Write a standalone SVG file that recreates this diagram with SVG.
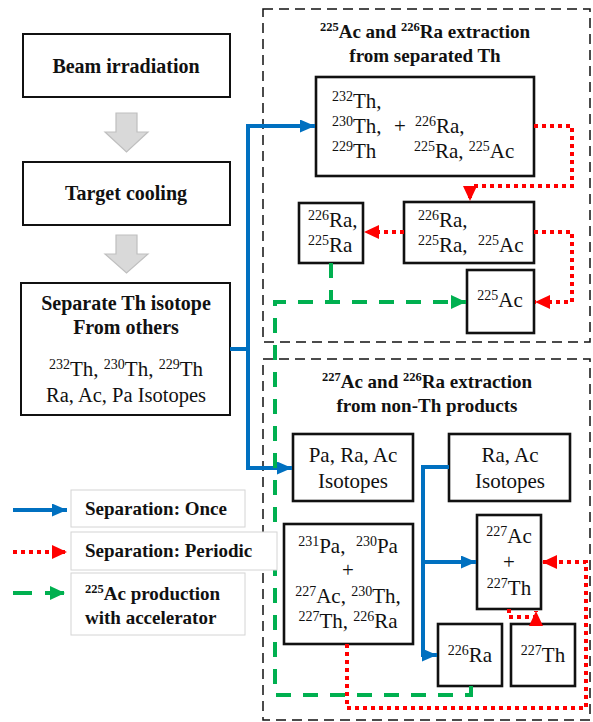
<svg xmlns="http://www.w3.org/2000/svg" width="593" height="722" viewBox="0 0 593 722">
<style>
text{fill:#111}
.b{font-weight:bold;font-size:20px}
.t{font-weight:bold;font-size:19px}
.n{font-size:21px}
.s{font-size:14px}
.bs{font-size:12.5px}
.box{fill:#fff;stroke:#111;stroke-width:2.6}
.lbox{fill:#fff;stroke:#111;stroke-width:2}
.cont{fill:none;stroke:#111;stroke-width:1.5;stroke-dasharray:10,6}
.leg{fill:#fff;stroke:#d4d4d4;stroke-width:1}
.blue{fill:none;stroke:#0070C0;stroke-width:4}
.red{fill:none;stroke:#FF0000;stroke-width:4;stroke-dasharray:4,4}
.green{fill:none;stroke:#00B050;stroke-width:4;stroke-dasharray:15,12}
.gray{fill:#d9d9d9;stroke:#bfbfbf;stroke-width:1.2}
</style>
<defs>
<marker id="ab" markerUnits="userSpaceOnUse" markerWidth="15" markerHeight="13" refX="15" refY="6.5" orient="auto"><path d="M0,0 L15,6.5 L0,13 z" fill="#0070C0"/></marker>
<marker id="ar" markerUnits="userSpaceOnUse" markerWidth="15" markerHeight="14" refX="15" refY="7" orient="auto"><path d="M0,0 L15,7 L0,14 z" fill="#FF0000"/></marker>
<marker id="ag" markerUnits="userSpaceOnUse" markerWidth="15" markerHeight="14" refX="15" refY="7" orient="auto"><path d="M0,0 L15,7 L0,14 z" fill="#00B050"/></marker>
</defs>

<g id="containers">
<rect class="cont" x="263" y="9" width="327" height="333"/>
<rect class="cont" x="263" y="359" width="327" height="361"/>
<text font-family="Liberation Serif, serif" class="t" x="425" y="38" text-anchor="middle"><tspan class="bs" dy="-7">225</tspan><tspan dy="7">Ac and </tspan><tspan class="bs" dy="-7">226</tspan><tspan dy="7">Ra extraction</tspan></text>
<text font-family="Liberation Serif, serif" class="t" x="425" y="62" text-anchor="middle">from separated Th</text>
<text font-family="Liberation Serif, serif" class="t" x="427" y="388" text-anchor="middle"><tspan class="bs" dy="-7">227</tspan><tspan dy="7">Ac and </tspan><tspan class="bs" dy="-7">226</tspan><tspan dy="7">Ra extraction</tspan></text>
<text font-family="Liberation Serif, serif" class="t" x="427" y="412" text-anchor="middle">from non-Th products</text>
</g>

<g id="beam">
<rect class="lbox" x="23" y="34" width="207" height="63"/>
<text font-family="Liberation Serif, serif" class="b" x="126" y="73" text-anchor="middle">Beam irradiation</text>
</g>
<g id="arrow1"><polygon class="gray" points="116,113 137,113 137,132 148,132 126.5,152 105,132 116,132"/></g>
<g id="cooling">
<rect class="lbox" x="23" y="162" width="207" height="63"/>
<text font-family="Liberation Serif, serif" class="b" x="126" y="200" text-anchor="middle">Target cooling</text>
</g>
<g id="arrow2"><polygon class="gray" points="116,235 137,235 137,254 148,254 126.5,273 105,254 116,254"/></g>
<g id="separate">
<rect class="lbox" x="21" y="283" width="209" height="132"/>
<text font-family="Liberation Serif, serif" class="b" x="126" y="310" text-anchor="middle">Separate Th isotope</text>
<text font-family="Liberation Serif, serif" class="b" x="126" y="334" text-anchor="middle">From others</text>
<text font-family="Liberation Serif, serif" class="n" x="126" y="376" text-anchor="middle"><tspan class="s" dy="-7">232</tspan><tspan dy="7">Th, </tspan><tspan class="s" dy="-7">230</tspan><tspan dy="7">Th, </tspan><tspan class="s" dy="-7">229</tspan><tspan dy="7">Th</tspan></text>
<text font-family="Liberation Serif, serif" class="n" x="126" y="402" text-anchor="middle" style="font-size:20.5px">Ra, Ac, Pa Isotopes</text>
</g>

<g id="boxA">
<rect class="box" x="316" y="77" width="218" height="99"/>
<text font-family="Liberation Serif, serif" class="n" x="332" y="108"><tspan class="s" dy="-7">232</tspan><tspan dy="7">Th,</tspan></text>
<text font-family="Liberation Serif, serif" class="n" x="332" y="133"><tspan class="s" dy="-7">230</tspan><tspan dy="7">Th,</tspan></text>
<text font-family="Liberation Serif, serif" class="n" x="394" y="133">+</text>
<text font-family="Liberation Serif, serif" class="n" x="415" y="133"><tspan class="s" dy="-7">226</tspan><tspan dy="7">Ra,</tspan></text>
<text font-family="Liberation Serif, serif" class="n" x="332" y="158"><tspan class="s" dy="-7">229</tspan><tspan dy="7">Th</tspan></text>
<text font-family="Liberation Serif, serif" class="n" x="414" y="158"><tspan class="s" dy="-7">225</tspan><tspan dy="7">Ra, </tspan><tspan class="s" dy="-7">225</tspan><tspan dy="7">Ac</tspan></text>
</g>
<g id="boxB">
<rect class="box" x="404" y="202" width="130" height="61"/>
<text font-family="Liberation Serif, serif" class="n" x="418" y="227"><tspan class="s" dy="-7">226</tspan><tspan dy="7">Ra,</tspan></text>
<text font-family="Liberation Serif, serif" class="n" x="418" y="252" xml:space="preserve"><tspan class="s" dy="-7">225</tspan><tspan dy="7">Ra,  </tspan><tspan class="s" dy="-7">225</tspan><tspan dy="7">Ac</tspan></text>
</g>
<g id="boxC">
<rect class="box" x="299" y="203" width="64" height="60"/>
<text font-family="Liberation Serif, serif" class="n" x="308" y="227"><tspan class="s" dy="-7">226</tspan><tspan dy="7">Ra,</tspan></text>
<text font-family="Liberation Serif, serif" class="n" x="308" y="252"><tspan class="s" dy="-7">225</tspan><tspan dy="7">Ra</tspan></text>
</g>
<g id="boxD">
<rect class="box" x="467" y="270" width="67" height="63"/>
<text font-family="Liberation Serif, serif" class="n" x="500" y="307" text-anchor="middle"><tspan class="s" dy="-7">225</tspan><tspan dy="7">Ac</tspan></text>
</g>

<g id="boxE">
<rect class="box" x="293" y="434" width="120" height="67"/>
<text font-family="Liberation Serif, serif" class="n" x="353" y="462" text-anchor="middle">Pa, Ra, Ac</text>
<text font-family="Liberation Serif, serif" class="n" x="353" y="488" text-anchor="middle">Isotopes</text>
</g>
<g id="boxF">
<rect class="box" x="449" y="434" width="121" height="67"/>
<text font-family="Liberation Serif, serif" class="n" x="510" y="462" text-anchor="middle">Ra, Ac</text>
<text font-family="Liberation Serif, serif" class="n" x="510" y="488" text-anchor="middle">Isotopes</text>
</g>
<g id="boxG">
<rect class="box" x="477" y="515" width="64" height="94"/>
<text font-family="Liberation Serif, serif" class="n" x="509" y="543" text-anchor="middle"><tspan class="s" dy="-7">227</tspan><tspan dy="7">Ac</tspan></text>
<text font-family="Liberation Serif, serif" class="n" x="509" y="569" text-anchor="middle">+</text>
<text font-family="Liberation Serif, serif" class="n" x="509" y="595" text-anchor="middle"><tspan class="s" dy="-7">227</tspan><tspan dy="7">Th</tspan></text>
</g>
<g id="boxH">
<rect class="box" x="284" y="524" width="129" height="120"/>
<text font-family="Liberation Serif, serif" class="n" x="348" y="553" text-anchor="middle" xml:space="preserve"><tspan class="s" dy="-7">231</tspan><tspan dy="7">Pa,  </tspan><tspan class="s" dy="-7">230</tspan><tspan dy="7">Pa</tspan></text>
<text font-family="Liberation Serif, serif" class="n" x="348" y="577" text-anchor="middle">+</text>
<text font-family="Liberation Serif, serif" class="n" x="348" y="603" text-anchor="middle"><tspan class="s" dy="-7">227</tspan><tspan dy="7">Ac, </tspan><tspan class="s" dy="-7">230</tspan><tspan dy="7">Th,</tspan></text>
<text font-family="Liberation Serif, serif" class="n" x="348" y="628" text-anchor="middle"><tspan class="s" dy="-7">227</tspan><tspan dy="7">Th, </tspan><tspan class="s" dy="-7">226</tspan><tspan dy="7">Ra</tspan></text>
</g>
<g id="boxI">
<rect class="box" x="438" y="624" width="64" height="62"/>
<text font-family="Liberation Serif, serif" class="n" x="470" y="662" text-anchor="middle"><tspan class="s" dy="-7">226</tspan><tspan dy="7">Ra</tspan></text>
</g>
<g id="boxJ">
<rect class="box" x="511" y="624" width="64" height="62"/>
<text font-family="Liberation Serif, serif" class="n" x="543" y="662" text-anchor="middle"><tspan class="s" dy="-7">227</tspan><tspan dy="7">Th</tspan></text>
</g>

<g id="connectors">
<path class="blue" d="M230,349 H248"/>
<path class="blue" d="M248,351 V126 H315" marker-end="url(#ab)"/>
<path class="blue" d="M248,347 V468 H292" marker-end="url(#ab)"/>
<path class="blue" d="M449,467 H423 V655 H437" marker-end="url(#ab)"/>
<path class="blue" d="M423,562 H476" marker-end="url(#ab)"/>
<path class="red" d="M534,126 H572 V186 H470 V201" marker-end="url(#ar)"/>
<path class="red" d="M404,232 H364" marker-end="url(#ar)"/>
<path class="red" d="M534,232 H572 V302 H535" marker-end="url(#ar)"/>
<path class="red" d="M347,644 V708 H586 V562 H542" marker-end="url(#ar)"/>
<path class="red" d="M509,609 V617 H536 V611" marker-end="url(#ar)"/>
<path class="green" d="M471,686 V695 H275 V302 H466" marker-end="url(#ag)"/>
<path class="green" d="M331,263 V302"/>
</g>

<g id="legend">
<rect class="leg" x="71" y="490" width="174" height="37"/>
<rect class="leg" x="71" y="532" width="206" height="38"/>
<rect class="leg" x="71" y="573" width="174" height="62"/>
<path class="blue" d="M13,510 H67" marker-end="url(#ab)"/>
<path class="red" d="M13,552 H67" marker-end="url(#ar)"/>
<path class="green" d="M13,593 H65" style="stroke-dasharray:19,13" marker-end="url(#ag)"/>
<text font-family="Liberation Serif, serif" class="t" x="85" y="515">Separation: Once</text>
<text font-family="Liberation Serif, serif" class="t" x="85" y="557">Separation: Periodic</text>
<text font-family="Liberation Serif, serif" class="t" x="85" y="600"><tspan class="bs" dy="-7">225</tspan><tspan dy="7">Ac production</tspan></text>
<text font-family="Liberation Serif, serif" class="t" x="85" y="624">with accelerator</text>
</g>
</svg>
